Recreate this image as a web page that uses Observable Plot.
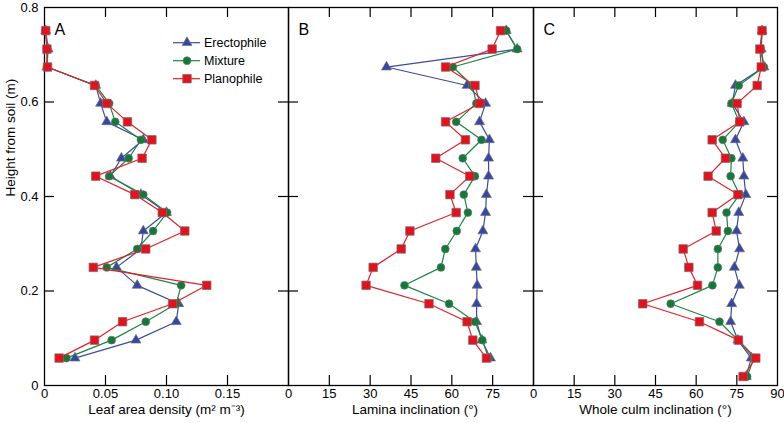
<!DOCTYPE html>
<html><head><meta charset="utf-8">
<script src="https://cdn.jsdelivr.net/npm/d3@7"></script>
<script src="https://cdn.jsdelivr.net/npm/@observablehq/plot@0.6"></script>
<style>
body{margin:0;background:#fff;font-family:"Liberation Sans",Arial,sans-serif;}
#chart{position:relative;width:784px;height:423px;}
#chart > svg{position:absolute;top:0;overflow:visible;}
</style></head><body><div id="chart"></div>
<script>
// ---- data (bottom to top) ----
const seriesNames = ["Erectophile", "Mixture", "Planophile"];
const heightsAB = [0.058,0.096,0.135,0.173,0.212,0.250,0.289,0.327,0.366,0.404,0.443,0.481,0.520,0.558,0.597,0.635,0.674,0.712,0.751];
const heightsC = [0.019,0.058,0.096,0.135,0.173,0.212,0.250,0.289,0.327,0.366,0.404,0.443,0.481,0.520,0.558,0.597,0.635,0.674,0.712,0.751];

const erectoA  = [0.025,0.075,0.108,0.110,0.076,0.059,0.079,0.081,0.100,0.079,0.054,0.063,0.081,0.051,0.046,0.042,0.002,0.003,0.001];
const mixtureA = [0.018,0.055,0.083,0.108,0.112,0.051,0.076,0.089,0.1005,0.081,0.053,0.069,0.079,0.058,0.053,0.042,0.002,0.002,0.001];
const planoA   = [0.012,0.041,0.064,0.105,0.133,0.040,0.083,0.115,0.0965,0.074,0.042,0.080,0.088,0.068,0.051,0.041,0.0025,0.002,0.001];

const erectoB  = [74.2,71.0,69.1,69.1,69.3,69.0,68.7,71.4,72.4,72.7,73.5,73.5,73.8,70.2,72.4,65.6,36.0,84.0,80.0];
const mixtureB = [73.5,71.2,68.5,59.0,42.6,56.0,57.6,61.8,65.9,64.4,68.5,64.0,70.9,61.6,69.0,67.5,60.4,84.0,80.0];
const planoB   = [72.7,67.7,65.6,51.6,28.5,31.1,41.4,44.6,61.6,59.3,66.6,54.1,65.0,57.7,70.3,68.5,57.7,74.8,77.9];

const erectoC  = [78.5,80.3,75.4,72.7,73.1,75.9,74.1,76.0,74.9,75.7,78.3,77.6,77.2,74.5,77.6,73.3,74.5,85.0,84.0,84.3];
const mixtureC = [78.8,81.3,75.4,68.6,50.6,66.0,68.0,68.0,71.7,71.2,76.0,72.7,73.0,69.8,75.9,73.0,75.7,85.0,83.8,84.3];
const planoC   = [77.3,82.0,75.6,61.2,40.3,60.5,57.3,55.2,67.4,65.9,75.4,64.4,70.8,65.9,76.1,75.1,82.5,84.0,83.5,84.3];

const yTicks = [0, 0.2, 0.4, 0.6, 0.8];
const xTicksA = [0, 0.05, 0.10, 0.15];
const xTicksB = [0, 15, 30, 45, 60, 75];
const xTicksC = [0, 15, 30, 45, 60, 75, 90];
const labelA = "Leaf area density (m² m⁻³)";
const labelB = "Lamina inclination (°)";
const labelC = "Whole culm inclination (°)";
const yLabel = "Height from soil (m)";

// ---- styles ----
const lineColors = ["#3c4ba0", "#18883f", "#e4202a"];
const fillColors = ["#3447a4", "#0f7b37", "#e5111c"];
const symbols = ["triangle", "circle", "square"];
const radii = [3.7, 3.9, 4.8];
const font = "'Liberation Sans', Arial, Helvetica, sans-serif";

const H = 423, MT = 7, MB = 38;
const frameH = H - MT - MB;

function panel({left, width, marginLeft, marginRight, xDomain, xTicks, xFmt, heights, vals, letter, label, labelDx, yAxis}) {
  const frameW = width - marginLeft - marginRight;
  const inner = xTicks.filter(t => t > xDomain[0] && t < xDomain[1]);
  const yInner = yTicks.filter(t => t > 0 && t < 0.8);
  const marks = [
    Plot.ruleX(inner, {x: d => d, insetTop: frameH - 10, stroke: "black", strokeWidth: 1.2}),
    Plot.ruleX(inner, {x: d => d, insetBottom: frameH - 10, stroke: "black", strokeWidth: 1.2}),
    Plot.ruleY(yInner, {y: d => d, insetRight: frameW - 10, stroke: "black", strokeWidth: 1.2}),
    Plot.ruleY(yInner, {y: d => d, insetLeft: frameW - 10, stroke: "black", strokeWidth: 1.2}),
    Plot.frame({stroke: "black", strokeWidth: 1.3}),
    Plot.axisX(xTicks, {anchor: "bottom", tickSize: 0, tickPadding: 3, tickFormat: xFmt, fontSize: 13, label: null})
  ];
  if (yAxis) {
    marks.push(Plot.axisY(yTicks, {anchor: "left", tickSize: 0, tickPadding: 6, fontSize: 13, label: null,
      tickFormat: d => d === 0 ? "0" : d.toFixed(1)}));
    marks.push(Plot.text([yLabel], {text: d => d, frameAnchor: "left", rotate: -90, dx: -34, fontSize: 13.5}));
  }
  vals.forEach((arr, i) => {
    const rows = arr.map((v, j) => ({v, h: heights[j], s: seriesNames[i]}));
    marks.push(Plot.line(rows, {x: "v", y: "h", stroke: lineColors[i], strokeWidth: 1.2}));
    marks.push(Plot.dot(rows, {x: "v", y: "h", symbol: symbols[i], r: radii[i], fill: fillColors[i], stroke: "#707070", strokeWidth: 0.7}));
  });
  marks.push(Plot.text([letter], {text: d => d, frameAnchor: "top-left", textAnchor: "start", dx: 10, dy: 16, fontSize: 16}));
  marks.push(Plot.text([label], {text: d => d, frameAnchor: "bottom", dy: 28, dx: labelDx || 0, fontSize: 13.5}));

  const svg = Plot.plot({
    width, height: H, marginLeft, marginRight, marginTop: MT, marginBottom: MB,
    x: {domain: xDomain, axis: null, label: null},
    y: {domain: [0, 0.8], axis: null, label: null},
    style: {fontFamily: font, fontSize: "13px", color: "black", background: "transparent", overflow: "visible"},
    marks
  });
  svg.style.left = left + "px";
  return svg;
}

const chart = document.getElementById("chart");
chart.append(panel({left: 0, width: 288, marginLeft: 44, marginRight: 0, xDomain: [0, 0.2], xTicks: xTicksA,
  xFmt: d => d === 0 ? "0" : d.toFixed(2), heights: heightsAB, vals: [erectoA, mixtureA, planoA], letter: "A", label: labelA, yAxis: true}));
chart.append(panel({left: 288, width: 245, marginLeft: 0, marginRight: 0, xDomain: [0, 90], xTicks: xTicksB,
  xFmt: d => String(d), heights: heightsAB, vals: [erectoB, mixtureB, planoB], letter: "B", label: labelB, labelDx: 4}));
chart.append(panel({left: 533, width: 251, marginLeft: 0, marginRight: 7, xDomain: [0, 90], xTicks: xTicksC,
  xFmt: d => String(d), heights: heightsC, vals: [erectoC, mixtureC, planoC], letter: "C", label: labelC}));

// legend inside panel A
const leg = d3.create("svg").attr("width", 784).attr("height", H)
  .style("left", "0px").style("pointer-events", "none").style("font-family", font);
const rowsY = [42.7, 60.7, 78.7];
seriesNames.forEach((name, i) => {
  const g = leg.append("g").attr("transform", `translate(0,${rowsY[i]})`);
  g.append("line").attr("x1", 173).attr("x2", 200).attr("y1", 0).attr("y2", 0)
    .attr("stroke", lineColors[i]).attr("stroke-width", 1.2);
  const sym = {triangle: d3.symbolTriangle, circle: d3.symbolCircle, square: d3.symbolSquare}[symbols[i]];
  g.append("path").attr("transform", "translate(187,0)")
    .attr("d", d3.symbol(sym, Math.PI * radii[i] * radii[i])())
    .attr("fill", fillColors[i]).attr("stroke", "#707070").attr("stroke-width", 0.7);
  g.append("text").attr("x", 204).attr("y", 0).attr("dy", "0.35em")
    .attr("font-size", 12.5).attr("fill", "black").text(name);
});
chart.append(leg.node());
</script></body></html>
